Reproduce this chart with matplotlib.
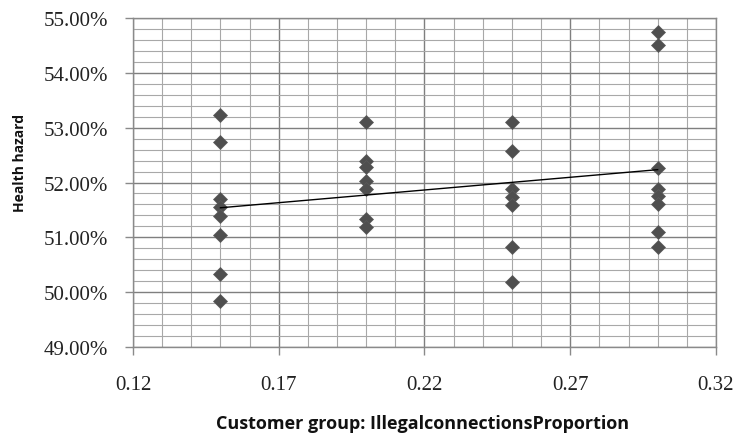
import numpy as np
import matplotlib
matplotlib.use('Agg')
import matplotlib.pyplot as plt
from matplotlib.ticker import MultipleLocator, FixedLocator, FuncFormatter

# group proportions and health hazard values (%)
x_015 = [53.23, 52.73, 51.70, 51.55, 51.39, 51.04, 50.33, 49.84]
x_020 = [53.11, 52.40, 52.28, 52.03, 51.88, 51.33, 51.18]
x_025 = [53.11, 52.58, 51.88, 51.73, 51.59, 50.82, 50.19]
x_030 = [54.75, 54.51, 52.26, 51.88, 51.76, 51.61, 51.09, 50.82]
groups = [0.15, 0.20, 0.25, 0.30]
values = [x_015, x_020, x_025, x_030]
x_ticks = [0.12, 0.17, 0.22, 0.27, 0.32]

xs = np.concatenate([[g] * len(v) for g, v in zip(groups, values)])
ys = np.concatenate(values)

fig = plt.figure(figsize=(7.36, 4.39), dpi=100, facecolor='white')
ax = fig.add_axes([0.1807, 0.2073, 0.7921, 0.7494])

ax.set_xlim(0.12, 0.32)
ax.set_ylim(49, 55)
ax.xaxis.set_major_locator(FixedLocator(x_ticks))
ax.xaxis.set_minor_locator(MultipleLocator(0.01))
ax.yaxis.set_major_locator(MultipleLocator(1))
ax.yaxis.set_minor_locator(MultipleLocator(0.2))

ax.grid(which='major', color='#7f7f7f', lw=1.0)
ax.grid(which='minor', color='#a8a8a8', lw=0.8)
ax.set_axisbelow(True)

ax.plot(xs, ys, linestyle='none', marker='D', ms=7.2, color='#4f4f4f',
        mec='#5a5a5a', mew=0.5, zorder=3)

# linear trendline
k, b = np.polyfit(xs, ys, 1)
tx = np.array([min(groups), max(groups)])
ax.plot(tx, k * tx + b, color='black', lw=1.0, zorder=4)

for s in ax.spines.values():
    s.set_color('#8a8a8a')
    s.set_linewidth(1.0)

ax.tick_params(which='major', direction='out', length=6, color='#8a8a8a', width=1)
ax.tick_params(which='minor', length=0)
ax.tick_params(axis='y', pad=12)
ax.tick_params(axis='x', pad=14)

ax.yaxis.set_major_formatter(FuncFormatter(lambda v, p: '%.2f%%' % v))
ax.xaxis.set_major_formatter(FuncFormatter(lambda v, p: '%.2f' % v))
for lab in ax.get_xticklabels() + ax.get_yticklabels():
    lab.set_fontfamily('Liberation Serif')
    lab.set_fontsize(15)
    lab.set_color('#222222')

ax.set_ylabel('Health hazard', fontsize=10, fontweight='bold',
              family='Open Sans', color='#111111')
ax.yaxis.set_label_coords(-0.182, 0.562)
ax.set_xlabel('Customer group: IllegalconnectionsProportion', fontsize=13,
              fontweight='bold', family='Open Sans', color='#111111')
ax.xaxis.set_label_coords(0.496, -0.205)

fig.savefig('out.png', dpi=100)
